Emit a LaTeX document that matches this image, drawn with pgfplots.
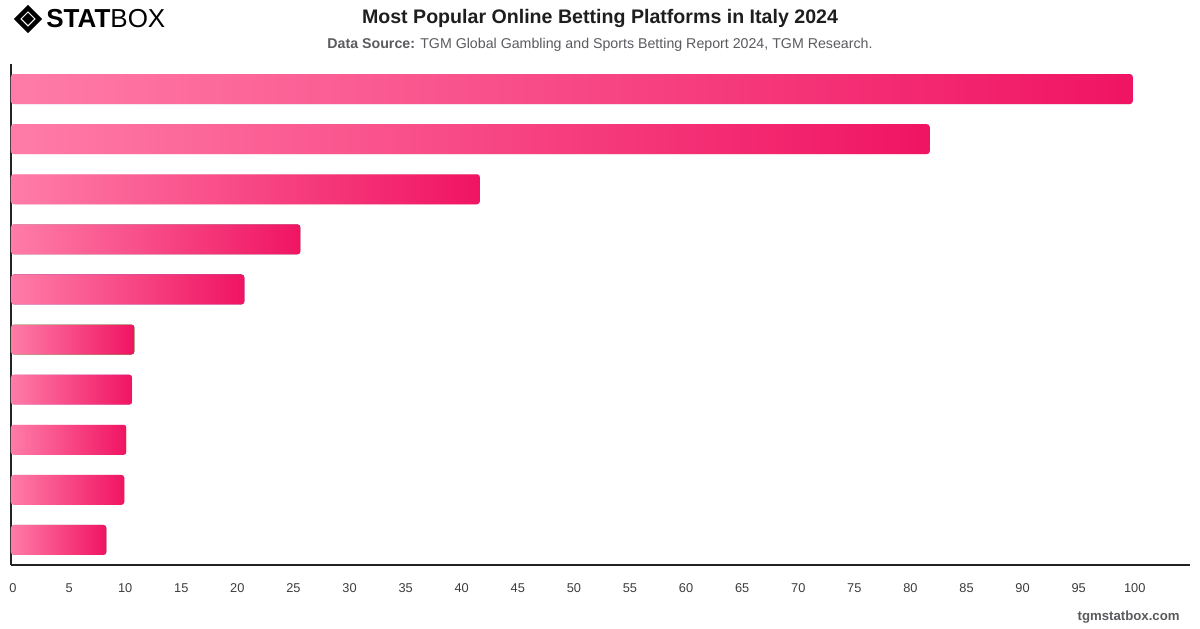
\documentclass[border=0pt]{standalone}
\usepackage{pgfplots}
\pgfplotsset{compat=1.18}
\usepackage{fontspec}
\setmainfont{Liberation Sans}
\definecolor{barlight}{RGB}{255,124,168}
\definecolor{bardark}{RGB}{240,20,98}
\definecolor{titleink}{RGB}{30,30,30}
\definecolor{subink}{RGB}{90,90,95}
\definecolor{axisink}{RGB}{35,35,35}
\definecolor{tickink}{RGB}{60,60,60}

\begin{document}
\begin{tikzpicture}[x=0.5pt,y=0.5pt]
% logo
\begin{scope}[shift={(28,609)}]
  \draw[line width=2.2pt, black] (-11,0) -- (0,11) -- (11,0) -- (0,-11) -- cycle;
  \fill[black] (-6,0) -- (0,6) -- (6,0) -- (0,-6) -- cycle;
\end{scope}
\node[anchor=west, inner sep=0pt, font=\fontsize{13}{13}\selectfont] at (46,609)
  {\textbf{STAT}BOX};

% titles
\node[anchor=base, inner sep=0pt, text=titleink,
      font=\fontsize{9.8}{12}\selectfont\bfseries] at (600,604)
  {Most Popular Online Betting Platforms in Italy 2024};
\node[anchor=base, inner sep=0pt, text=subink,
      font=\fontsize{7.1}{8}\selectfont] at (600,579)
  {\textbf{Data Source:} TGM Global Gambling and Sports Betting Report 2024, TGM Research.};

% footer
\node[anchor=base east, inner sep=0pt, text=subink,
      font=\fontsize{6.6}{8}\selectfont\bfseries] at (1180,8)
  {tgmstatbox.com};

\begin{axis}[
  at={(5.5pt,31.5pt)}, anchor=south west,
  scale only axis, width=589.5pt, height=250.5pt,
  xmin=0, xmax=105.1, ymin=-0.5, ymax=9.5,
  y dir=reverse,
  axis x line*=bottom, axis y line*=left,
  axis line style={axisink, line width=0.7pt, -},
  xtick={0,5,...,100}, ytick=\empty,
  major tick length=0pt,
  tick label style={text=tickink, font=\fontsize{6.4}{8}\selectfont},
  /pgf/number format/assume math mode=true,
  xticklabel style={anchor=base, yshift=-13.8pt, xshift=1pt},
  xbar, bar width=15pt, bar shift=0pt,
  every axis plot/.append style={draw=none, left color=barlight,
                                 right color=bardark, rounded corners=1.5pt},
  clip=false,
]
% one plot per platform so each bar gets its own gradient
\addplot coordinates {(100,0)};
\addplot coordinates {(81.9,1)};
\addplot coordinates {(41.8,2)};
\addplot coordinates {(25.8,3)};
\addplot coordinates {(20.8,4)};
\addplot coordinates {(11.0,5)};
\addplot coordinates {(10.8,6)};
\addplot coordinates {(10.3,7)};
\addplot coordinates {(10.1,8)};
\addplot coordinates {(8.5,9)};
\end{axis}

% page frame, 1200 x 628 units
\pgfresetboundingbox
\path (0,0) rectangle (1200,628);
\end{tikzpicture}
\end{document}
